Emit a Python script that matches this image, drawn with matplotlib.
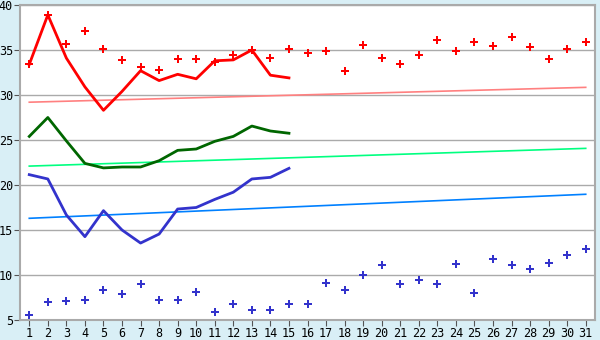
import numpy as np
import matplotlib
matplotlib.use('Agg')
import matplotlib.pyplot as plt

days = list(range(1, 32))
line_days = list(range(1, 16))

# lines (days 1-15)
red_line = [33.4, 38.9, 34.1, 30.9, 28.3, 30.4, 32.7, 31.6, 32.3, 31.8, 33.8, 33.9, 35.0, 32.2, 31.9]
green_line = [25.4, 27.5, 24.9, 22.4, 21.9, 22.0, 22.0, 22.7, 23.85, 24.0, 24.85, 25.4, 26.55, 26.0, 25.75]
blue_line = [21.15, 20.67, 16.67, 14.26, 17.15, 15.0, 13.55, 14.55, 17.33, 17.5, 18.4, 19.2, 20.67, 20.85, 21.85]

# dots (days 1-31)
red_dots = [33.4, 38.9, 35.7, 37.1, 35.1, 33.85, 33.1, 32.8, 34.0, 34.0, 33.7, 34.4, 35.0, 34.1, 35.1,
            34.7, 34.85, 32.7, 35.6, 34.1, 33.4, 34.4, 36.1, 34.85, 35.85, 35.4, 36.4, 35.3, 34.0, 35.1, 35.85]
blue_dots = [5.52, 6.96, 7.07, 7.19, 8.3, 7.85, 8.96, 7.19, 7.19, 8.07, 5.85, 6.74, 6.07, 6.07, 6.74,
             6.74, 9.07, 8.3, 9.96, 11.07, 8.96, 9.41, 8.96, 11.19, 7.96, 11.74, 11.07, 10.63, 11.3, 12.19, 12.85]

# trend lines: value at day 1 and day 31
trend_days = [1, 31]
red_trend = [29.2, 30.85]
green_trend = [22.1, 24.07]
blue_trend = [16.3, 18.97]

bg = '#d9eff6'
fig = plt.figure(figsize=(6, 3.4), dpi=100, facecolor=bg)
ax = fig.add_axes([20/600, 20/340, 575/600, 315/340])
ax.set_facecolor('white')

ax.plot(trend_days, red_trend, color='#ff8080', lw=1.2, zorder=2)
ax.plot(trend_days, green_trend, color='#00ff80', lw=1.2, zorder=2)
ax.plot(trend_days, blue_trend, color='#0080ff', lw=1.2, zorder=2)

ax.plot(line_days, red_line, color='#ff0000', lw=2, zorder=3)
ax.plot(line_days, green_line, color='#006600', lw=2, zorder=3)
ax.plot(line_days, blue_line, color='#3333cc', lw=2, zorder=3)

ax.plot(days, red_dots, 'P', color='#ff0000', ms=6, mew=0, ls='none', zorder=4)
ax.plot(days, blue_dots, 'P', color='#3333cc', ms=6, mew=0, ls='none', zorder=4)

ax.set_xlim(0.5, 31.5)
ax.set_ylim(5, 40)
ax.set_xticks(days)
ax.set_yticks(range(5, 41, 5))
ax.yaxis.grid(True, color='#aaaaaa', lw=1)
ax.set_axisbelow(True)
for s in ax.spines.values():
    s.set_color('#aaaaaa')
    s.set_linewidth(1.5)
ax.tick_params(colors='#555555', length=4, labelcolor='black', labelsize=8.5, pad=1)
for lab in ax.get_xticklabels() + ax.get_yticklabels():
    lab.set_family('DejaVu Sans Mono')

fig.savefig('out.png', dpi=100, facecolor=bg)
